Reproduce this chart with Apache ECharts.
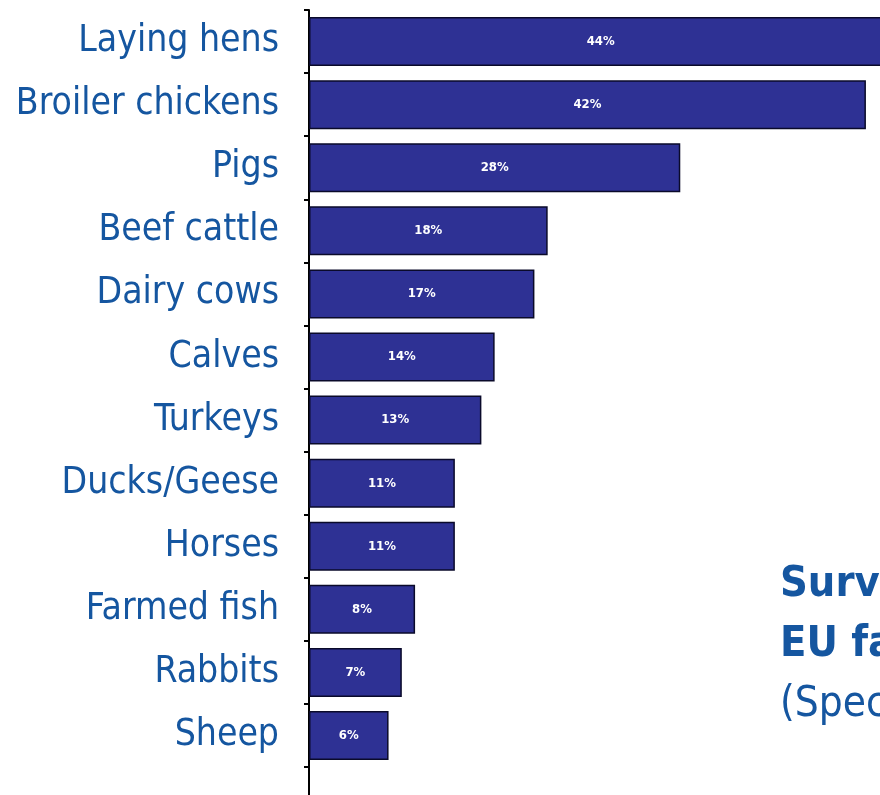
<!DOCTYPE html>
<html>
<head>
<meta charset="utf-8">
<script src="https://cdn.jsdelivr.net/npm/echarts@6/dist/echarts.min.js"></script>
<style>
  html, body { margin: 0; padding: 0; background: #ffffff; }
  #chart { width: 880px; height: 795px; }
</style>
</head>
<body>
<div id="chart"></div>
<script>
// Share of respondents per livestock category (%)
const categories = [
  'Laying hens', 'Broiler chickens', 'Pigs', 'Beef cattle', 'Dairy cows', 'Calves',
  'Turkeys', 'Ducks/Geese', 'Horses', 'Farmed fish', 'Rabbits', 'Sheep'
];
const shares = [44, 42, 28, 18, 17, 14, 13, 11, 11, 8, 7, 6];

const textBlue = '#1556a0';
const font = "'DejaVu Sans Condensed', 'DejaVu Sans', sans-serif";

const chart = echarts.init(document.getElementById('chart'));
chart.setOption({
  animation: false,
  backgroundColor: '#ffffff',
  title: {
    left: 780,
    top: 555,
    padding: 0,
    text: '{b|Survey of}\n{b|EU farmers}\n{n|(Special Eurobarometer)}',
    textStyle: {
      rich: {
        b: { fontFamily: font, fontSize: 43, fontWeight: 'bold', color: textBlue, lineHeight: 60 },
        n: { fontFamily: font, fontSize: 42, fontWeight: 'normal', color: textBlue, lineHeight: 60 }
      }
    }
  },
  grid: {
    left: 309, top: 10, height: 757, width: 663,
    containLabel: false,
    outerBoundsMode: 'none'
  },
  xAxis: {
    type: 'value',
    min: 0,
    max: 50,
    show: false,
    splitLine: { show: false }
  },
  yAxis: {
    type: 'category',
    inverse: true,
    data: categories,
    boundaryGap: true,
    axisLine: { show: true, lineStyle: { color: '#000000', width: 2 } },
    axisTick: { show: true, length: 5, lineStyle: { color: '#000000', width: 2 } },
    axisLabel: {
      margin: 30,
      color: textBlue,
      fontFamily: font,
      fontSize: 37
    }
  },
  series: [{
    type: 'bar',
    data: shares,
    barWidth: 49,
    itemStyle: { color: '#2e3194', borderColor: '#0a0a2a', borderWidth: 1.5 },
    label: {
      show: true,
      position: 'inside',
      formatter: '{c}%',
      color: '#ffffff',
      fontFamily: font,
      fontWeight: 'bold',
      fontSize: 13
    }
  }],
  graphic: [{
    // axis line continues below the last category
    type: 'line',
    shape: { x1: 309, y1: 767, x2: 309, y2: 795 },
    style: { stroke: '#000000', lineWidth: 2 }
  }]
});
</script>
</body>
</html>
